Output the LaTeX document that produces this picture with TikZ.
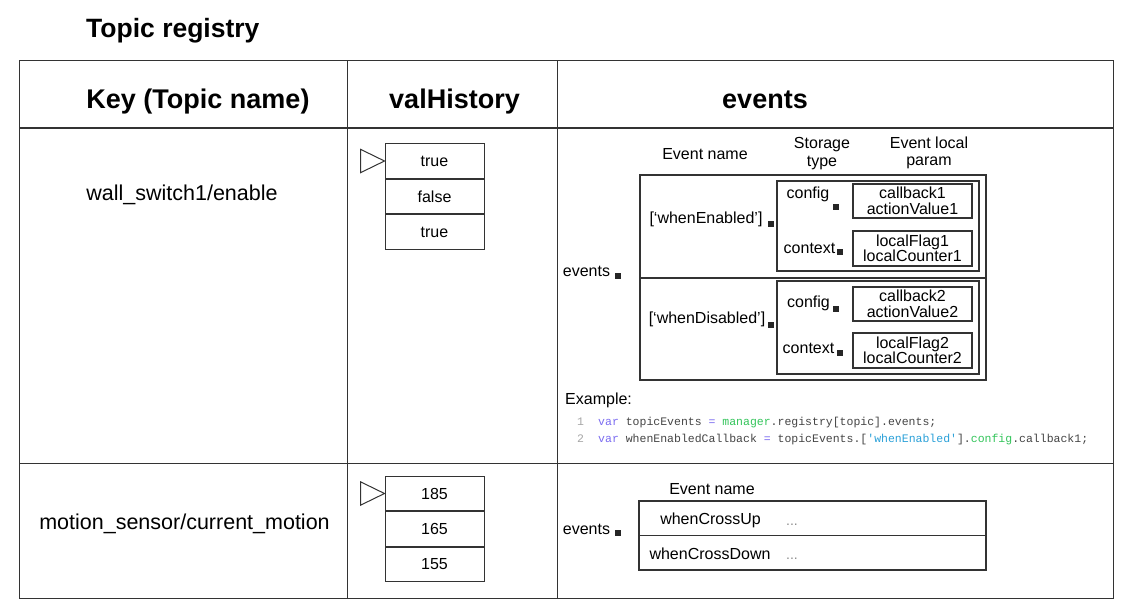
\documentclass[tikz,border=0pt]{standalone}
\usepackage{fontspec}
\setmainfont{Liberation Sans}
\newfontfamily\codefont{Liberation Mono}[Ligatures=TeXOff]
\usetikzlibrary{positioning}
\newcommand{\fsz}[2][]{\fontsize{#2}{#2}\selectfont}
\definecolor{linec}{HTML}{333333}
\definecolor{varc}{HTML}{7B6CF0}
\definecolor{mgrc}{HTML}{33C45A}
\definecolor{strc}{HTML}{2AA0D8}
\definecolor{codec}{HTML}{444444}
\tikzset{
  hdr/.style={font=\bfseries\fsz{27}, anchor=base, inner sep=0pt},
  keytxt/.style={font=\fsz{21.5}, anchor=base, inner sep=0pt},
  lbl/.style={font=\fsz{16}, inner sep=0pt, align=center},
  cell/.style={draw=linec, line width=1pt, minimum width=99pt, minimum height=34.5pt, inner sep=0pt, font=\fsz{16}},
  box/.style={draw=linec, line width=1.2pt, inner sep=0pt},
  parbox/.style={box, minimum width=119pt, font=\fontsize{16}{15.5}\selectfont, align=center},
  sqdot/.style={fill=black!85, minimum size=6pt, inner sep=0pt},
  code/.style={font=\codefont\fsz{11.5}, text=codec, anchor=base west, inner sep=0pt},
  ptr/.style={draw=linec, line width=1pt},
  dots/.style={anchor=base west, inner sep=0pt, text=black!45, font=\fsz{14}},
}
\begin{document}
\begin{tikzpicture}[x=1pt, y=-1pt]
  \useasboundingbox (0,0) rectangle (1126,608);
  % title and table grid
  \node[font=\bfseries\fsz{26.5}, anchor=base west, inner sep=0pt] (title) at (86,37) {Topic registry};
  \draw[linec, line width=0.9pt] (19,60) rectangle (1113,598);
  \draw[linec, line width=0.9pt] (347,60) -- (347,598) (557,60) -- (557,598) (19,463) -- (1113,463);
  \draw[linec, line width=1.5pt] (19,128) -- (1113,128);
  \node[hdr] (hkey) at (198,108) {Key (Topic name)};
  \node[hdr] (hval) at (454.5,108) {valHistory};
  \node[hdr] (hevt) at (765,108) {events};

  % row 1: wall switch
  \node[keytxt] (key1) at (182,200) {wall\_switch1/enable};
  \node[cell] (v1a) at (434.5,161) {true};
  \node[cell, below=0pt of v1a] (v1b) {false};
  \node[cell, below=0pt of v1b] (v1c) {true};
  \draw[ptr] (v1a.west) -- ++(-24,-11.7) -- ++(0,23.4) -- cycle;

  \node[lbl] (en1) at (705,154) {Event name};
  \node[lbl, font=\fontsize{16}{17.5}\selectfont] (st1) at (822,153.5) {Storage\\type};
  \node[lbl, font=\fontsize{16}{17.5}\selectfont] (lp1) at (929,153) {Event local\\param};
  \node[lbl] (evl1) at (586.5,271) {events};
  \node[sqdot] (evd1) at (618,276) {};
  \node[box, minimum width=346pt, minimum height=205pt] (ev1) at (813,277.5) {};
  \draw[linec, line width=2pt] (ev1.west) -- (ev1.east);

  \node[lbl] (we) at (706,219) {[`whenEnabled']};
  \node[sqdot] (wed) at (771,223.5) {};
  \node[box, minimum width=202pt, minimum height=90pt] (sb1) at (878,226) {};
  \node[lbl] (cf1) at (808,194) {config};
  \node[sqdot] (cfd1) at (835.5,207) {};
  \node[parbox, minimum height=34pt] (pa1) at (912.5,201) {callback1\\actionValue1};
  \node[lbl] (cx1) at (809.5,248) {context};
  \node[sqdot] (cxd1) at (840,252) {};
  \node[parbox, minimum height=35pt] (pb1) at (912.5,248.5) {localFlag1\\localCounter1};

  \node[lbl] (wd) at (707,319.5) {[`whenDisabled']};
  \node[sqdot] (wdd) at (771,325) {};
  \node[box, minimum width=202pt, minimum height=93pt] (sb2) at (878,327.5) {};
  \node[lbl] (cf2) at (808.5,303) {config};
  \node[sqdot] (cfd2) at (835.5,309) {};
  \node[parbox, minimum height=34pt] (pa2) at (912.5,304) {callback2\\actionValue2};
  \node[lbl] (cx2) at (808.5,348.5) {context};
  \node[sqdot] (cxd2) at (840,353) {};
  \node[parbox, minimum height=35pt] (pb2) at (912.5,350.5) {localFlag2\\localCounter2};

  % usage example
  \node[lbl, anchor=base west] (ex) at (565,404) {Example:};
  \node[code, text=black!35] (ln1) at (577,425) {1};
  \node[code] (cl1) at (598,425) {\textcolor{varc}{var} topicEvents \textcolor{varc}{=} \textcolor{mgrc}{manager}.registry[topic].events;};
  \node[code, text=black!35] (ln2) at (577,442) {2};
  \node[code] (cl2) at (598,442) {\textcolor{varc}{var} whenEnabledCallback \textcolor{varc}{=} topicEvents.[\textcolor{strc}{'whenEnabled'}].\textcolor{mgrc}{config}.callback1;};

  % row 2: motion sensor
  \node[keytxt] (key2) at (184.5,529) {motion\_sensor/current\_motion};
  \node[cell] (v2a) at (434.5,493.5) {185};
  \node[cell, below=0pt of v2a] (v2b) {165};
  \node[cell, below=0pt of v2b] (v2c) {155};
  \draw[ptr] (v2a.west) -- ++(-24,-11.7) -- ++(0,23.4) -- cycle;

  \node[lbl] (en2) at (712,489.5) {Event name};
  \node[lbl] (evl2) at (586.5,529) {events};
  \node[sqdot] (evd2) at (618,533) {};
  \node[box, minimum width=347pt, minimum height=69pt] (ev2) at (812.5,535.5) {};
  \draw[linec, line width=1.2pt] (ev2.west) -- (ev2.east);
  \node[lbl] (cu) at (710.5,520) {whenCrossUp};
  \node[dots] (cud) at (786,525) {...};
  \node[lbl] (cd) at (710,553.5) {whenCrossDown};
  \node[dots] (cdd) at (786,559) {...};
\end{tikzpicture}
\end{document}
